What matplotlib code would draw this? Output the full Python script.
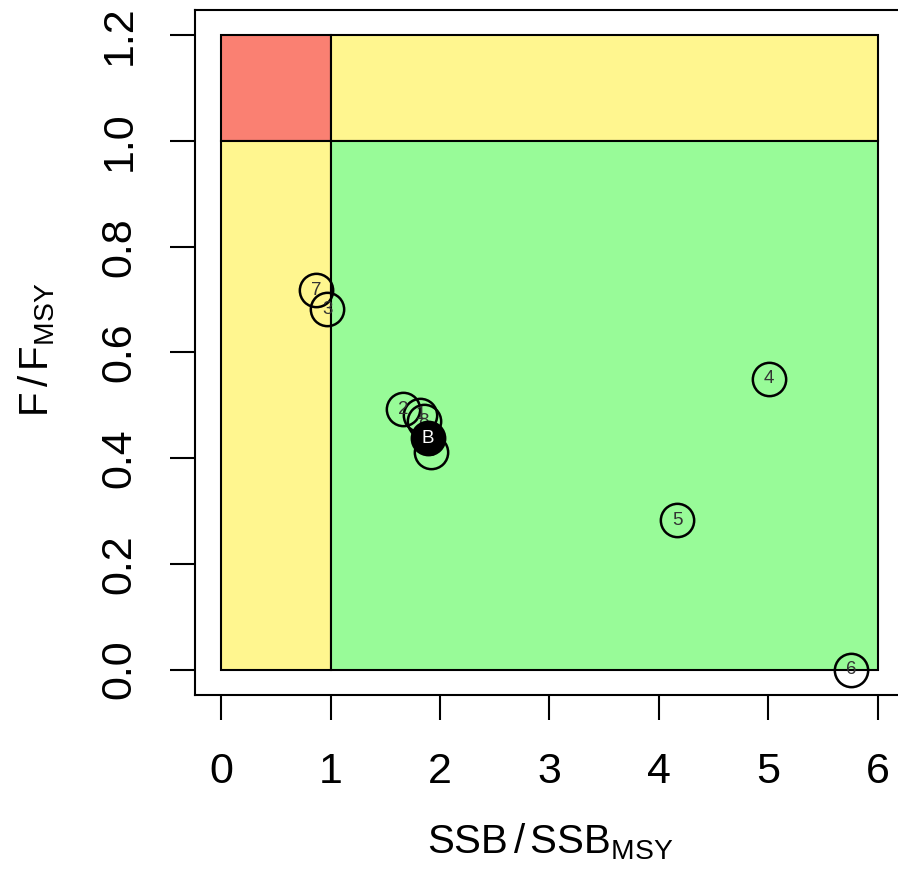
import matplotlib
matplotlib.use('Agg')
import matplotlib.pyplot as plt
from matplotlib.patches import Rectangle

# Data
ssb_rel = [1.82, 1.66, 0.967, 5.006, 4.167, 5.76, 0.866, 1.85, 1.92]
f_rel = [0.482, 0.493, 0.682, 0.55, 0.283, 0.0, 0.718, 0.470, 0.412]
point_labels = ['1', '2', '3', '4', '5', '6', '7', '8', '9']
base_ssb = 1.887
base_f = 0.438
base_label = 'B'

x_ticks = [0, 1, 2, 3, 4, 5, 6]
y_ticks = [0.0, 0.2, 0.4, 0.6, 0.8, 1.0, 1.2]
y_tick_labels = ['0.0', '0.2', '0.4', '0.6', '0.8', '1.0', '1.2']
ssb_lim, f_lim, x_max, y_max = 1.0, 1.0, 6.0, 1.2

plt.rcParams['font.family'] = ['Liberation Sans', 'DejaVu Sans']
plt.rcParams['mathtext.fontset'] = 'custom'
plt.rcParams['mathtext.rm'] = 'Liberation Sans'
plt.rcParams['mathtext.it'] = 'Liberation Sans'

W, H = 898, 871
fig = plt.figure(figsize=(W / 100, H / 100), dpi=100)
L, R, T, B = 195, 904, 10, 695
ax = fig.add_axes([L / W, 1 - B / H, (R - L) / W, (B - T) / H])
ax.set_xlim(-0.24, 6.24)
ax.set_ylim(-0.048, 1.248)

red, yellow, green = '#FA8072', '#FFF68F', '#98FB98'
rects = [
    (0, f_lim, ssb_lim, y_max - f_lim, red),
    (ssb_lim, f_lim, x_max - ssb_lim, y_max - f_lim, yellow),
    (0, 0, ssb_lim, f_lim, yellow),
    (ssb_lim, 0, x_max - ssb_lim, f_lim, green),
]
for x0, y0, w, h, c in rects:
    ax.add_patch(Rectangle((x0, y0), w, h, facecolor=c, edgecolor='black', linewidth=1.5, zorder=1))

ax.plot(ssb_rel, f_rel, 'o', markersize=24, markerfacecolor='none',
        markeredgecolor='black', markeredgewidth=1.8, zorder=3, clip_on=False)
for x, y, lab in zip(ssb_rel, f_rel, point_labels):
    ax.text(x, y, lab, ha='center', va='center', fontsize=13.5, color='#333333', zorder=4)

ax.plot([base_ssb], [base_f], 'o', markersize=24, markerfacecolor='black',
        markeredgecolor='black', markeredgewidth=1.8, zorder=5)
ax.text(base_ssb, base_f, base_label, ha='center', va='center', fontsize=13.5, color='white', zorder=6)

ax.set_xticks(x_ticks)
ax.set_xticklabels([str(t) for t in x_ticks], fontsize=31)
ax.set_yticks(y_ticks)
ax.set_yticklabels(y_tick_labels, fontsize=31, rotation=90, va='center')
ax.tick_params(axis='both', length=18, width=1.5, direction='out')
ax.tick_params(axis='x', pad=23)
ax.tick_params(axis='y', pad=22)
for s in ax.spines.values():
    s.set_linewidth(1.5)
ax.spines['right'].set_visible(False)

fig.text(550 / W, 1 - 853 / H, r'$\mathregular{SSB\,/\,SSB_{MSY}}$', ha='center', va='baseline', fontsize=29)
fig.text(48 / W, 1 - 350 / H, r'$\mathregular{F\,/\,F_{MSY}}$', ha='center', va='baseline',
         rotation=90, rotation_mode='anchor', fontsize=29)

fig.savefig('out.png', dpi=100)
